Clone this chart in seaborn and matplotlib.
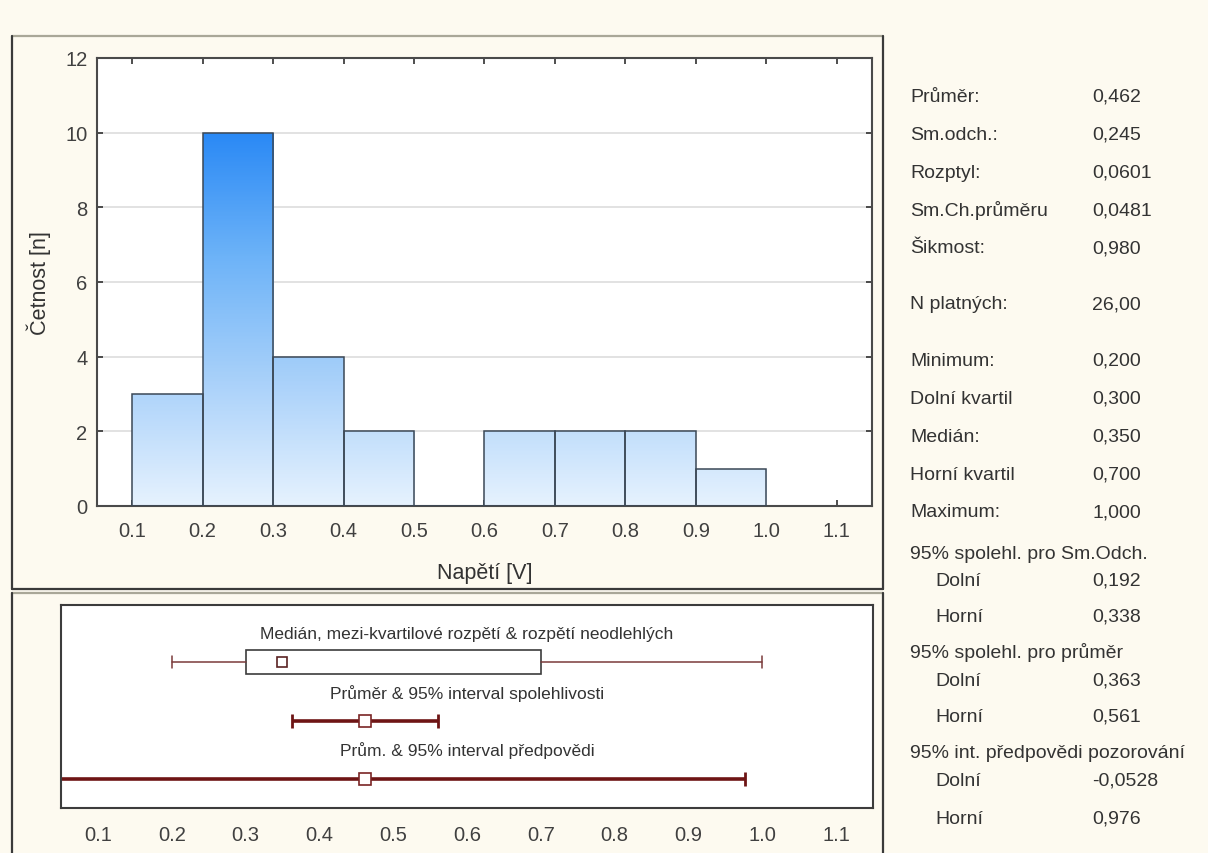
import numpy as np
import pandas as pd
import matplotlib
matplotlib.use("Agg")
import matplotlib.pyplot as plt
from matplotlib.colors import LinearSegmentedColormap
from matplotlib.lines import Line2D
import seaborn as sns

# Histogram of measured voltages
bin_edges = [0.1, 0.2, 0.3, 0.4, 0.5, 0.6, 0.7, 0.8, 0.9, 1.0]
bin_counts = [3, 10, 4, 2, 0, 2, 2, 2, 1]
x_ticks = [0.1, 0.2, 0.3, 0.4, 0.5, 0.6, 0.7, 0.8, 0.9, 1.0, 1.1]
y_ticks = [0, 2, 4, 6, 8, 10, 12]

# Summary statistics for the lower panel
box_min, box_q1, box_median, box_q3, box_max = 0.200, 0.300, 0.350, 0.700, 1.000
mean_value = 0.462
mean_ci = (0.363, 0.561)
pred_interval = (-0.0528, 0.976)

row_titles = [
    "Medián, mezi-kvartilové rozpětí & rozpětí neodlehlých",
    "Průměr & 95% interval spolehlivosti",
    "Prům. & 95% interval předpovědi",
]

stat_labels = ["Průměr:", "Sm.odch.:", "Rozptyl:", "Sm.Ch.průměru", "Šikmost:",
               "N platných:", "Minimum:", "Dolní kvartil", "Medián:", "Horní kvartil",
               "Maximum:", "95% spolehl. pro Sm.Odch.", "Dolní", "Horní",
               "95% spolehl. pro průměr", "Dolní", "Horní",
               "95% int. předpovědi pozorování", "Dolní", "Horní"]
stat_values = ["0,462", "0,245", "0,0601", "0,0481", "0,980", "26,00", "0,200", "0,300",
               "0,350", "0,700", "1,000", "", "0,192", "0,338", "", "0,363", "0,561",
               "", "-0,0528", "0,976"]
stat_rows_px = [96, 134, 172, 210, 247, 303, 360, 398, 436, 474, 511, 553, 580, 616,
                652, 680, 716, 752, 780, 818]
stat_indent = [False] * 12 + [True, True, False, True, True, False, True, True]

W, H = 1208, 854
BG = "#fdfaf0"
INK = "#333333"
FONT = ["Liberation Sans", "DejaVu Sans"]

sns.set_theme(style="white")
plt.rcParams["font.family"] = FONT

fig = plt.figure(figsize=(W / 100, H / 100), dpi=100, facecolor=BG)


def fx(px):
    return px / W


def fy(py):
    return 1 - py / H


# Panel frames (drawn in figure pixels)
def frame(x0, y0, x1, y1):
    for xs, ys, col in [((x0, x1), (y0, y0), "#a9a798"),
                        ((x0, x0), (y0, y1), "#3a3a3a"),
                        ((x1, x1), (y0, y1), "#3a3a3a"),
                        ((x0, x1), (y1, y1), "#3a3a3a")]:
        fig.add_artist(Line2D([fx(xs[0]), fx(xs[1])], [fy(ys[0]), fy(ys[1])],
                              color=col, lw=1.6, transform=fig.transFigure))


frame(12, 37, 883, 590)
frame(12, 594, 883, 870)

# ---------------- Histogram ----------------
ax = fig.add_axes([fx(97), fy(507), fx(872) - fx(97), fy(59) - fy(507)])
ax.set_facecolor("white")

edges = np.array(bin_edges)
hist_df = pd.DataFrame({"napeti": (edges[:-1] + edges[1:]) / 2, "cetnost": bin_counts})
sns.histplot(data=hist_df, x="napeti", weights="cetnost", bins=bin_edges, ax=ax,
             stat="count", edgecolor="#3b4856", linewidth=1.1, alpha=1)

blues = LinearSegmentedColormap.from_list(
    "bar_fill", ["#e6f2fe", "#a9d1fa", "#6db3f8", "#2a89f5"])
grad = np.linspace(0, 12, 400).reshape(-1, 1)
for p in ax.patches:
    x0 = p.get_x()
    x1 = x0 + p.get_width()
    p.set_facecolor("none")
    p.set_zorder(3)
    im = ax.imshow(grad, extent=(x0, x1, 0, 12), origin="lower", aspect="auto",
                   cmap=blues, vmin=0, vmax=10, zorder=2, interpolation="bilinear")
    im.set_clip_path(p)

ax.set_xlim(0.05, 1.15)
ax.set_ylim(0, 12)
ax.set_xticks(x_ticks)
ax.set_xticklabels([f"{t:.1f}" for t in x_ticks])
ax.set_yticks(y_ticks)
ax.yaxis.grid(True, color="#dadada", lw=1.1)
ax.xaxis.grid(False)
ax.set_axisbelow(True)
ax.tick_params(direction="in", length=4, width=1.2, color="#303030",
               top=True, right=True, bottom=True, left=True,
               labelsize=14.5, labelcolor="#404040")
ax.tick_params(axis="x", pad=11)
ax.tick_params(axis="y", pad=7)
for s in ax.spines.values():
    s.set_color("#4a4a4a")
    s.set_linewidth(1.5)
ax.set_xlabel("Napětí [V]", fontsize=15.5, color=INK, labelpad=16)
ax.set_ylabel("Četnost [n]", fontsize=15.5, color=INK, labelpad=10)

# ---------------- Box / interval panel ----------------
ax2 = fig.add_axes([fx(61), fy(809), fx(873) - fx(61), fy(606) - fy(809)])
ax2.set_facecolor("white")
ax2.grid(False)

row_y = [0.72, 0.43, 0.143]
title_y = [0.862, 0.571, 0.286]

box_stats = [dict(whislo=box_min, q1=box_q1, med=box_median, q3=box_q3,
                  whishi=box_max, fliers=[])]
ax2.bxp(box_stats, positions=[row_y[0]], orientation="horizontal", widths=0.118,
        showfliers=False, patch_artist=True, capwidths=0.06,
        boxprops=dict(facecolor="white", edgecolor="#3c3c3c", linewidth=1.2),
        whiskerprops=dict(color="#7a3b3b", linewidth=1.1),
        capprops=dict(color="#7a3b3b", linewidth=1.1),
        medianprops=dict(linewidth=0))
ax2.plot([box_median], [row_y[0]], marker="s", ms=7.5, mfc="white",
         mec="#5a2222", mew=1.2, ls="none", zorder=5)

dark_red = "#6e1515"
ax2.errorbar([mean_value], [row_y[1]],
             xerr=[[mean_value - mean_ci[0]], [mean_ci[1] - mean_value]],
             fmt="none", ecolor=dark_red, elinewidth=2.6, capsize=5, capthick=2)
ax2.plot([mean_value], [row_y[1]], marker="s", ms=8, mfc="white",
         mec="#7a2525", mew=1.2, ls="none", zorder=5)

ax2.errorbar([mean_value], [row_y[2]],
             xerr=[[mean_value - pred_interval[0]], [pred_interval[1] - mean_value]],
             fmt="none", ecolor=dark_red, elinewidth=2.6, capsize=5, capthick=2)
ax2.plot([mean_value], [row_y[2]], marker="s", ms=8, mfc="white",
         mec="#7a2525", mew=1.2, ls="none", zorder=5)

for title, ty in zip(row_titles, title_y):
    ax2.text(0.5, ty, title, transform=ax2.transAxes, ha="center", va="center",
             fontsize=12.5, color="#333333")

ax2.set_xlim(0.05, 1.15)
ax2.set_ylim(0, 1)
ax2.set_yticks([])
ax2.set_xticks(x_ticks)
ax2.set_xticklabels([f"{t:.1f}" for t in x_ticks], fontsize=14.5, color="#404040")
ax2.tick_params(axis="x", length=0, pad=12)
ax2.tick_params(axis="y", length=0, left=False, labelleft=False)
for s in ax2.spines.values():
    s.set_color("#3c3c3c")
    s.set_linewidth(1.5)

# ---------------- Statistics column ----------------
# Shared baselines keep labels and values on the same line
for lab, val, py, ind in zip(stat_labels, stat_values, stat_rows_px, stat_indent):
    fig.text(fx(935 if ind else 910), fy(py + 6), lab, ha="left", va="baseline",
             fontsize=14, color=INK)
    if val:
        fig.text(fx(1092), fy(py + 6), val, ha="left", va="baseline",
                 fontsize=14, color=INK)

fig.savefig("out.png", dpi=100, facecolor=BG)
